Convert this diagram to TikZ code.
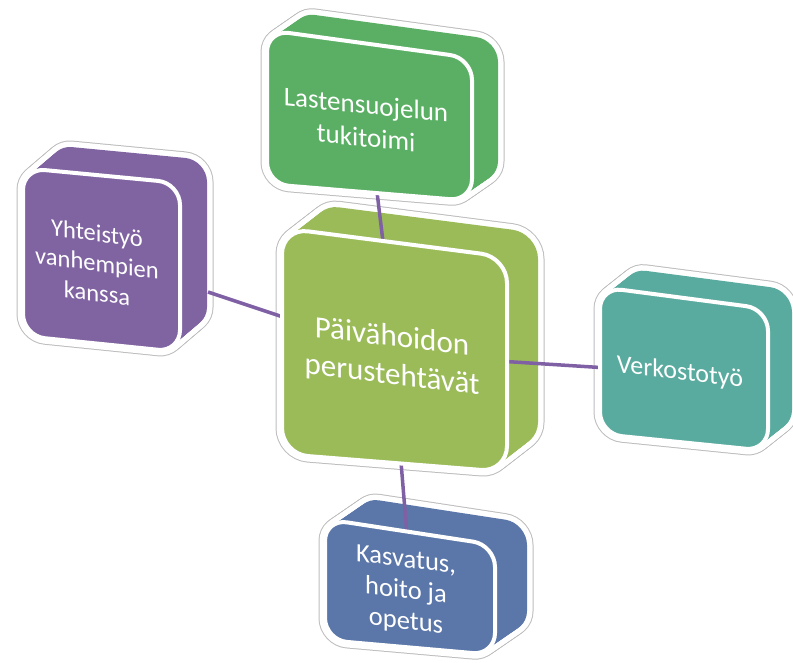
\documentclass[tikz,border=0pt]{standalone}
\usepackage{fontspec}
\setmainfont{Carlito}
\definecolor{grn}{HTML}{5AAF64}
\definecolor{lime}{HTML}{9BBB59}
\definecolor{purp}{HTML}{8064A2}
\definecolor{teal}{HTML}{5AAB9F}
\definecolor{blu}{HTML}{5B77A9}
\definecolor{conncol}{HTML}{7F60A4}
\definecolor{outl}{HTML}{BDBDBD}
\newcommand{\crad}{22pt}
% silhouette: L TLy R TRy BRy BLy dx dy color
\newcommand{\boxsil}[9]{%
  \foreach \i in {0,...,20}{\draw[draw=outl, line width=13pt, rounded corners=\crad, shift={({\i/20*(#7)},{\i/20*(#8)})}] (#1,#2) -- (#3,#4) -- (#3,#5) -- (#1,#6) -- cycle;}
  \foreach \i in {0,...,20}{\draw[draw=white, line width=11pt, rounded corners=\crad, shift={({\i/20*(#7)},{\i/20*(#8)})}] (#1,#2) -- (#3,#4) -- (#3,#5) -- (#1,#6) -- cycle;}
  \foreach \i in {0,...,20}{\fill[#9, rounded corners=\crad, shift={({\i/20*(#7)},{\i/20*(#8)})}] (#1,#2) -- (#3,#4) -- (#3,#5) -- (#1,#6) -- cycle;}
}
% front face: L TLy R TRy BRy BLy color
\newcommand{\boxfront}[7]{%
  \draw[fill=#7, draw=white, line width=4pt, rounded corners=\crad] (#1,#2) -- (#3,#4) -- (#3,#5) -- (#1,#6) -- cycle;
}
\tikzset{
  conn/.style={draw=conncol, line width=3.5pt},
  lbl/.style={text=white, align=center, yslant=-0.12, inner sep=0pt}
}
\begin{document}
\begin{tikzpicture}[x=1pt,y=-1pt]
\useasboundingbox (0,0) rectangle (793,663);
% silhouettes
\renewcommand{\crad}{22pt}
\boxsil{267}{30}{472}{58}{201}{184}{26}{-18}{grn}
\boxsil{23}{168}{180}{183}{352}{336}{27}{-23}{purp}
\boxsil{600}{287}{768}{309}{451}{434}{24}{-19}{teal}
\boxsil{325}{519}{495}{545}{655}{640}{32}{-22}{blu}
\renewcommand{\crad}{26pt}
\boxsil{282}{228}{507}{257}{472}{454}{31}{-24}{lime}
% connector ends
\coordinate (gA) at (377,192);
\coordinate (cT) at (384,250);
\coordinate (pA) at (208,292);
\coordinate (cL) at (292,320);
\coordinate (cR) at (498,361);
\coordinate (tA) at (608,368);
\coordinate (cB) at (401,462);
\coordinate (bA) at (407,535);
\draw[conn] (gA) -- (cT);
\draw[conn] (pA) -- (cL);
\draw[conn] (cR) -- (tA);
\draw[conn] (cB) -- (bA);
% front faces
\renewcommand{\crad}{22pt}
\boxfront{267}{30}{472}{58}{201}{184}{grn}
\boxfront{23}{168}{180}{183}{352}{336}{purp}
\boxfront{600}{287}{768}{309}{451}{434}{teal}
\boxfront{325}{519}{495}{545}{655}{640}{blu}
\renewcommand{\crad}{26pt}
\boxfront{282}{228}{507}{257}{472}{454}{lime}
% labels
\node[lbl, font=\fontsize{27}{33}\selectfont, yslant=0.02] (g) at (366,121) {Lastensuojelun\\tukitoimi};
\node[lbl, font=\fontsize{31}{38}\selectfont] (c) at (392,357) {Päivähoidon\\perustehtävät};
\node[lbl, font=\fontsize{24.5}{30}\selectfont, yslant=-0.01] (p) at (97,263) {Yhteistyö\\vanhempien\\kanssa};
\node[lbl, font=\fontsize{26}{32}\selectfont] (t) at (680,373) {Verkostotyö};
\node[lbl, font=\fontsize{26.5}{31}\selectfont] (b) at (406,592) {Kasvatus,\\hoito ja\\opetus};
\end{tikzpicture}
\end{document}
